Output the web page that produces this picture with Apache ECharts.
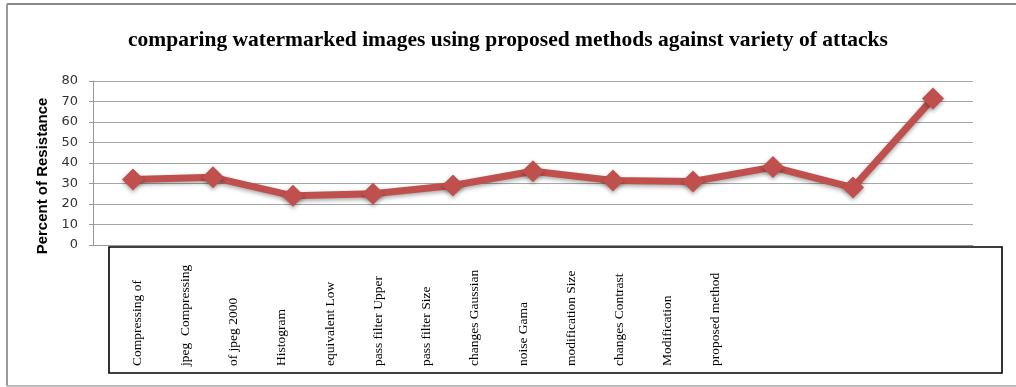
<!DOCTYPE html>
<html>
<head>
<meta charset="utf-8">
<script src="https://cdn.jsdelivr.net/npm/echarts@6/dist/echarts.min.js"></script>
<style>
html,body{margin:0;padding:0;background:#fff;}
#c{width:1016px;height:387px;}
</style>
</head>
<body>
<div id="c"></div>
<script>
const titleText = 'comparing watermarked images using proposed methods against variety of attacks';
const yAxisTitle = 'Percent of Resistance';
const pointCategories = ['1','2','3','4','5','6','7','8','9','10','11'];
const resistance = [32, 33, 24, 25, 29, 36, 31.5, 31, 38, 28, 71.5];
const attackLabels = ['Compressing of','jpeg  Compressing','of jpeg 2000','Histogram','equivalent Low','pass filter Upper','pass filter Size','changes Gaussian','noise Gama','modification Size','changes Contrast','Modification','proposed method'];
const yMin = 0, yMax = 80, yStep = 10;

const chart = echarts.init(document.getElementById('c'), null, {renderer:'canvas'});
chart.setOption({
  animation:false,
  backgroundColor:'#fff',
  title:{
    text:titleText, left:'center', top:24,
    textStyle:{fontFamily:'Liberation Serif', fontWeight:'bold', fontSize:21.5, color:'#000'}
  },
  graphic:[
    {type:'line', shape:{x1:7, y1:4, x2:1016, y2:4}, style:{stroke:'#888', lineWidth:2}},
    {type:'line', shape:{x1:7, y1:4, x2:7, y2:386}, style:{stroke:'#999', lineWidth:2}},
    {type:'line', shape:{x1:7, y1:386, x2:1016, y2:386}, style:{stroke:'#bbb', lineWidth:2}},
    {type:'rect', shape:{x:109, y:247, width:893, height:126}, style:{fill:'none', stroke:'#000', lineWidth:1.6}, z:1}
  ],
  grid:[
    {left:93, right:43, top:81, bottom:142, containLabel:false},
    {left:113, width:627, top:366, height:1}
  ],
  xAxis:[
    {type:'category', gridIndex:0, data:pointCategories, boundaryGap:true,
     axisLine:{show:true, lineStyle:{color:'#999', width:1}}, axisTick:{show:false}, axisLabel:{show:false}},
    {type:'category', gridIndex:1, data:attackLabels, position:'top', boundaryGap:true,
     axisLine:{show:false}, axisTick:{show:false},
     axisLabel:{show:true, rotate:90, margin:0, interval:0, fontFamily:'Liberation Serif', fontSize:13.5, color:'#000'}}
  ],
  yAxis:[
    {type:'value', gridIndex:0, min:yMin, max:yMax, interval:yStep,
     name:yAxisTitle, nameLocation:'middle', nameGap:42, nameRotate:90,
     nameTextStyle:{fontFamily:'Liberation Sans', fontWeight:'bold', fontSize:15, color:'#000', padding:[0,26,0,0]},
     axisLine:{show:true, lineStyle:{color:'#999'}},
     axisTick:{show:true, length:4, lineStyle:{color:'#999'}},
     axisLabel:{fontFamily:'DejaVu Sans', fontSize:13, color:'#333', margin:15},
     splitLine:{show:true, lineStyle:{color:'#a6a6a6', width:1}}},
    {type:'value', gridIndex:1, show:false}
  ],
  series:[
    {type:'line', xAxisIndex:0, yAxisIndex:0, data:resistance,
     symbol:'diamond', symbolSize:[22,22],
     lineStyle:{color:'#C0504D', width:7, shadowColor:'rgba(0,0,0,0.35)', shadowBlur:4, shadowOffsetY:2},
     itemStyle:{color:'#C0504D', shadowColor:'rgba(0,0,0,0.35)', shadowBlur:4, shadowOffsetY:2},
     z:5}
  ]
});
</script>
</body>
</html>
